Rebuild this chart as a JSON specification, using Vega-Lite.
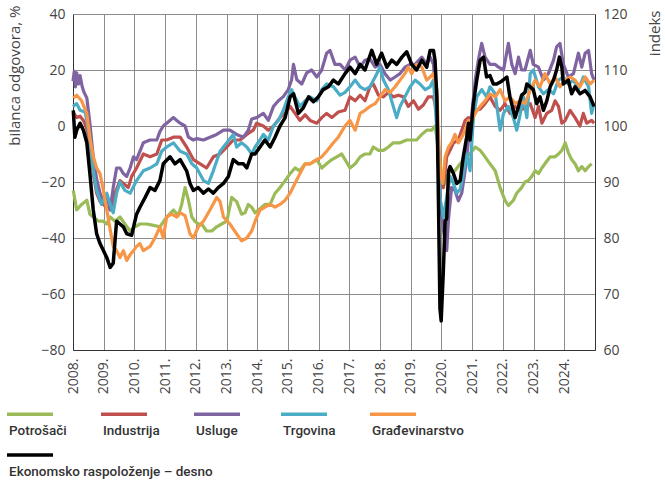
{
"$schema":"https://vega.github.io/schema/vega-lite/v6.json",
"width":522,"height":336,
"autosize":{"type":"none"},
"padding":{"left":73,"top":14,"right":70,"bottom":130},
"background":"white",
"config":{"view":{"stroke":null},
"axis":{"labelFont":"Open Sans","labelFontSize":14,"labelColor":"#444","titleFont":"Open Sans","titleFontSize":15,"titleFontWeight":"normal","titleColor":"#444","domainColor":"#333","gridColor":"#8c8c8c","ticks":false,"tickSize":0,"labelPadding":8,"labelOverlap":false},
"legend":{"title":null,"orient":"none","direction":"horizontal","symbolType":"stroke","symbolSize":2116,"symbolStrokeWidth":3.5,"labelOffset":-46,"labelBaseline":"top","labelFont":"Roboto","labelFontSize":13.5,"labelFontWeight":500,"labelColor":"#333","labelLimit":300}},
"datasets":{
"left":[
{"s":"P","t":2008.01,"v":-23},{"s":"P","t":2008.12,"v":-30},{"s":"P","t":2008.28,"v":-28},{"s":"P","t":2008.45,"v":-26.5},{"s":"P","t":2008.55,"v":-31.5},{"s":"P","t":2008.66,"v":-32.5},{"s":"P","t":2008.83,"v":-34},{"s":"P","t":2008.99,"v":-34},{"s":"P","t":2009.10,"v":-35},{"s":"P","t":2009.21,"v":-32.5},{"s":"P","t":2009.37,"v":-34},{"s":"P","t":2009.53,"v":-32.5},{"s":"P","t":2009.69,"v":-35},{"s":"P","t":2009.86,"v":-37.5},{"s":"P","t":2010.02,"v":-36},{"s":"P","t":2010.18,"v":-35},{"s":"P","t":2010.40,"v":-35},{"s":"P","t":2010.62,"v":-35.5},{"s":"P","t":2010.83,"v":-36},{"s":"P","t":2011.05,"v":-32.5},{"s":"P","t":2011.27,"v":-30},{"s":"P","t":2011.43,"v":-32},{"s":"P","t":2011.54,"v":-28},{"s":"P","t":2011.65,"v":-22},{"s":"P","t":2011.76,"v":-26.5},{"s":"P","t":2011.87,"v":-32.5},{"s":"P","t":2011.97,"v":-34},{"s":"P","t":2012.08,"v":-35},{"s":"P","t":2012.19,"v":-35},{"s":"P","t":2012.35,"v":-37.5},{"s":"P","t":2012.52,"v":-37.5},{"s":"P","t":2012.68,"v":-36},{"s":"P","t":2012.84,"v":-35},{"s":"P","t":2013.01,"v":-34},{"s":"P","t":2013.17,"v":-25.5},{"s":"P","t":2013.33,"v":-27},{"s":"P","t":2013.49,"v":-31.5},{"s":"P","t":2013.60,"v":-31},{"s":"P","t":2013.71,"v":-28},{"s":"P","t":2013.82,"v":-29},{"s":"P","t":2013.93,"v":-31},{"s":"P","t":2014.09,"v":-29.5},{"s":"P","t":2014.25,"v":-28},{"s":"P","t":2014.42,"v":-28},{"s":"P","t":2014.58,"v":-24},{"s":"P","t":2014.74,"v":-22},{"s":"P","t":2014.91,"v":-19.5},{"s":"P","t":2015.07,"v":-17},{"s":"P","t":2015.23,"v":-15},{"s":"P","t":2015.39,"v":-16},{"s":"P","t":2015.56,"v":-13.5},{"s":"P","t":2015.72,"v":-13.5},{"s":"P","t":2015.94,"v":-12},{"s":"P","t":2016.10,"v":-15},{"s":"P","t":2016.26,"v":-13.5},{"s":"P","t":2016.43,"v":-12},{"s":"P","t":2016.59,"v":-11},{"s":"P","t":2016.75,"v":-10},{"s":"P","t":2016.86,"v":-12},{"s":"P","t":2017.02,"v":-15},{"s":"P","t":2017.19,"v":-13.5},{"s":"P","t":2017.35,"v":-11},{"s":"P","t":2017.51,"v":-10},{"s":"P","t":2017.67,"v":-10},{"s":"P","t":2017.78,"v":-7.5},{"s":"P","t":2017.95,"v":-8.7},{"s":"P","t":2018.11,"v":-8.7},{"s":"P","t":2018.27,"v":-7.5},{"s":"P","t":2018.43,"v":-6},{"s":"P","t":2018.65,"v":-6},{"s":"P","t":2018.87,"v":-5},{"s":"P","t":2019.03,"v":-5},{"s":"P","t":2019.19,"v":-5},{"s":"P","t":2019.36,"v":-3},{"s":"P","t":2019.52,"v":-1.5},{"s":"P","t":2019.68,"v":-1.5},{"s":"P","t":2019.79,"v":0},{"s":"P","t":2019.85,"v":-4},{"s":"P","t":2019.95,"v":-13.5},{"s":"P","t":2020.06,"v":-22},{"s":"P","t":2020.17,"v":-18},{"s":"P","t":2020.28,"v":-16},{"s":"P","t":2020.44,"v":-16},{"s":"P","t":2020.61,"v":-13.5},{"s":"P","t":2020.77,"v":-11},{"s":"P","t":2020.93,"v":-10},{"s":"P","t":2021.10,"v":-7.5},{"s":"P","t":2021.26,"v":-8.7},{"s":"P","t":2021.42,"v":-11},{"s":"P","t":2021.58,"v":-13.5},{"s":"P","t":2021.75,"v":-16},{"s":"P","t":2021.91,"v":-22},{"s":"P","t":2022.07,"v":-26.6},{"s":"P","t":2022.18,"v":-28.4},{"s":"P","t":2022.34,"v":-26.6},{"s":"P","t":2022.45,"v":-24},{"s":"P","t":2022.61,"v":-22},{"s":"P","t":2022.72,"v":-20},{"s":"P","t":2022.83,"v":-19.5},{"s":"P","t":2022.94,"v":-18},{"s":"P","t":2023.05,"v":-16},{"s":"P","t":2023.16,"v":-17},{"s":"P","t":2023.27,"v":-15},{"s":"P","t":2023.37,"v":-13.5},{"s":"P","t":2023.54,"v":-11},{"s":"P","t":2023.70,"v":-11},{"s":"P","t":2023.81,"v":-10},{"s":"P","t":2023.92,"v":-8.7},{"s":"P","t":2024.03,"v":-6},{"s":"P","t":2024.13,"v":-9.5},{"s":"P","t":2024.24,"v":-12},{"s":"P","t":2024.35,"v":-13.5},{"s":"P","t":2024.46,"v":-16},{"s":"P","t":2024.57,"v":-14.5},{"s":"P","t":2024.68,"v":-16},{"s":"P","t":2024.79,"v":-14.5},{"s":"P","t":2024.89,"v":-13.5},
{"s":"I","t":2008.0,"v":5},{"s":"I","t":2008.12,"v":3},{"s":"I","t":2008.23,"v":3.5},{"s":"I","t":2008.34,"v":2},{"s":"I","t":2008.45,"v":-1},{"s":"I","t":2008.55,"v":-7.5},{"s":"I","t":2008.66,"v":-17},{"s":"I","t":2008.77,"v":-24},{"s":"I","t":2008.88,"v":-27},{"s":"I","t":2008.99,"v":-28},{"s":"I","t":2009.10,"v":-29},{"s":"I","t":2009.26,"v":-30},{"s":"I","t":2009.37,"v":-24},{"s":"I","t":2009.53,"v":-19.5},{"s":"I","t":2009.69,"v":-21},{"s":"I","t":2009.80,"v":-22},{"s":"I","t":2009.91,"v":-18},{"s":"I","t":2010.07,"v":-15},{"s":"I","t":2010.29,"v":-10},{"s":"I","t":2010.51,"v":-11},{"s":"I","t":2010.73,"v":-10},{"s":"I","t":2010.89,"v":-5},{"s":"I","t":2011.05,"v":-5},{"s":"I","t":2011.27,"v":-4},{"s":"I","t":2011.49,"v":-4},{"s":"I","t":2011.70,"v":-7.5},{"s":"I","t":2011.92,"v":-12},{"s":"I","t":2012.14,"v":-13.5},{"s":"I","t":2012.35,"v":-15},{"s":"I","t":2012.57,"v":-11},{"s":"I","t":2012.79,"v":-10},{"s":"I","t":2013.01,"v":-7.5},{"s":"I","t":2013.22,"v":-5},{"s":"I","t":2013.44,"v":-5},{"s":"I","t":2013.66,"v":-3},{"s":"I","t":2013.87,"v":-1.5},{"s":"I","t":2013.98,"v":1},{"s":"I","t":2014.20,"v":0},{"s":"I","t":2014.36,"v":-1.5},{"s":"I","t":2014.53,"v":0},{"s":"I","t":2014.74,"v":3},{"s":"I","t":2014.91,"v":4.5},{"s":"I","t":2015.07,"v":7},{"s":"I","t":2015.23,"v":4.5},{"s":"I","t":2015.39,"v":2},{"s":"I","t":2015.56,"v":4},{"s":"I","t":2015.72,"v":2},{"s":"I","t":2015.94,"v":1},{"s":"I","t":2016.10,"v":3},{"s":"I","t":2016.26,"v":4.5},{"s":"I","t":2016.43,"v":3},{"s":"I","t":2016.64,"v":5},{"s":"I","t":2016.86,"v":5.6},{"s":"I","t":2017.02,"v":10.4},{"s":"I","t":2017.19,"v":9},{"s":"I","t":2017.35,"v":11},{"s":"I","t":2017.51,"v":9},{"s":"I","t":2017.67,"v":14},{"s":"I","t":2017.78,"v":15},{"s":"I","t":2017.95,"v":11},{"s":"I","t":2018.11,"v":10.4},{"s":"I","t":2018.27,"v":12},{"s":"I","t":2018.43,"v":10.4},{"s":"I","t":2018.60,"v":11},{"s":"I","t":2018.76,"v":10.4},{"s":"I","t":2018.92,"v":7},{"s":"I","t":2019.09,"v":9},{"s":"I","t":2019.25,"v":6},{"s":"I","t":2019.41,"v":7.5},{"s":"I","t":2019.57,"v":10.4},{"s":"I","t":2019.74,"v":10.4},{"s":"I","t":2019.85,"v":4.5},{"s":"I","t":2019.95,"v":-17},{"s":"I","t":2020.06,"v":-22},{"s":"I","t":2020.17,"v":-11},{"s":"I","t":2020.28,"v":-8.7},{"s":"I","t":2020.39,"v":-6},{"s":"I","t":2020.55,"v":-5},{"s":"I","t":2020.66,"v":-1.5},{"s":"I","t":2020.77,"v":2},{"s":"I","t":2020.88,"v":3},{"s":"I","t":2020.99,"v":2},{"s":"I","t":2021.10,"v":5.6},{"s":"I","t":2021.26,"v":6},{"s":"I","t":2021.42,"v":8},{"s":"I","t":2021.58,"v":10.4},{"s":"I","t":2021.75,"v":7},{"s":"I","t":2021.91,"v":5.6},{"s":"I","t":2022.07,"v":8},{"s":"I","t":2022.23,"v":4.5},{"s":"I","t":2022.40,"v":7},{"s":"I","t":2022.56,"v":5.6},{"s":"I","t":2022.72,"v":6.5},{"s":"I","t":2022.89,"v":8},{"s":"I","t":2023.05,"v":3},{"s":"I","t":2023.16,"v":7},{"s":"I","t":2023.27,"v":1},{"s":"I","t":2023.43,"v":4.5},{"s":"I","t":2023.59,"v":5.6},{"s":"I","t":2023.70,"v":9},{"s":"I","t":2023.81,"v":7},{"s":"I","t":2023.92,"v":1},{"s":"I","t":2024.03,"v":2},{"s":"I","t":2024.19,"v":5.6},{"s":"I","t":2024.35,"v":3},{"s":"I","t":2024.51,"v":0},{"s":"I","t":2024.62,"v":4.5},{"s":"I","t":2024.73,"v":1},{"s":"I","t":2024.89,"v":2},{"s":"I","t":2024.97,"v":1},
{"s":"U","t":2008.0,"v":16},{"s":"U","t":2008.04,"v":19.5},{"s":"U","t":2008.08,"v":14},{"s":"U","t":2008.12,"v":19},{"s":"U","t":2008.18,"v":15},{"s":"U","t":2008.23,"v":18},{"s":"U","t":2008.30,"v":14},{"s":"U","t":2008.36,"v":12},{"s":"U","t":2008.45,"v":10},{"s":"U","t":2008.55,"v":1},{"s":"U","t":2008.66,"v":-11},{"s":"U","t":2008.77,"v":-19},{"s":"U","t":2008.88,"v":-24},{"s":"U","t":2008.99,"v":-27},{"s":"U","t":2009.10,"v":-25},{"s":"U","t":2009.21,"v":-30},{"s":"U","t":2009.31,"v":-22},{"s":"U","t":2009.42,"v":-15},{"s":"U","t":2009.53,"v":-15},{"s":"U","t":2009.64,"v":-17},{"s":"U","t":2009.75,"v":-18},{"s":"U","t":2009.86,"v":-15},{"s":"U","t":2009.97,"v":-11},{"s":"U","t":2010.07,"v":-12},{"s":"U","t":2010.29,"v":-6},{"s":"U","t":2010.51,"v":-5},{"s":"U","t":2010.73,"v":-5},{"s":"U","t":2010.83,"v":-2},{"s":"U","t":2010.94,"v":0},{"s":"U","t":2011.05,"v":1},{"s":"U","t":2011.27,"v":3},{"s":"U","t":2011.38,"v":2},{"s":"U","t":2011.49,"v":1},{"s":"U","t":2011.65,"v":0},{"s":"U","t":2011.76,"v":-4},{"s":"U","t":2011.92,"v":-5},{"s":"U","t":2012.03,"v":-4.5},{"s":"U","t":2012.25,"v":-5},{"s":"U","t":2012.46,"v":-4},{"s":"U","t":2012.68,"v":-3},{"s":"U","t":2012.90,"v":-1.5},{"s":"U","t":2013.11,"v":-1.5},{"s":"U","t":2013.33,"v":-3},{"s":"U","t":2013.55,"v":-4},{"s":"U","t":2013.71,"v":-1.5},{"s":"U","t":2013.82,"v":2.5},{"s":"U","t":2013.98,"v":3},{"s":"U","t":2014.20,"v":4.5},{"s":"U","t":2014.36,"v":2},{"s":"U","t":2014.53,"v":7},{"s":"U","t":2014.69,"v":9},{"s":"U","t":2014.85,"v":10.5},{"s":"U","t":2015.01,"v":13},{"s":"U","t":2015.12,"v":16.5},{"s":"U","t":2015.18,"v":22},{"s":"U","t":2015.29,"v":16.5},{"s":"U","t":2015.45,"v":15},{"s":"U","t":2015.61,"v":19},{"s":"U","t":2015.77,"v":20},{"s":"U","t":2015.94,"v":17.5},{"s":"U","t":2016.10,"v":20},{"s":"U","t":2016.26,"v":26},{"s":"U","t":2016.37,"v":27},{"s":"U","t":2016.53,"v":22},{"s":"U","t":2016.70,"v":22},{"s":"U","t":2016.86,"v":20},{"s":"U","t":2017.02,"v":23.5},{"s":"U","t":2017.19,"v":24.6},{"s":"U","t":2017.35,"v":21},{"s":"U","t":2017.51,"v":23.5},{"s":"U","t":2017.67,"v":24},{"s":"U","t":2017.84,"v":21},{"s":"U","t":2018.00,"v":22},{"s":"U","t":2018.16,"v":18.7},{"s":"U","t":2018.33,"v":16.4},{"s":"U","t":2018.49,"v":17.5},{"s":"U","t":2018.65,"v":18.7},{"s":"U","t":2018.81,"v":21},{"s":"U","t":2018.98,"v":22},{"s":"U","t":2019.14,"v":22},{"s":"U","t":2019.36,"v":24.6},{"s":"U","t":2019.52,"v":22},{"s":"U","t":2019.63,"v":24.6},{"s":"U","t":2019.74,"v":22},{"s":"U","t":2019.85,"v":4.5},{"s":"U","t":2019.90,"v":-10},{"s":"U","t":2019.95,"v":-25.5},{"s":"U","t":2020.06,"v":-37},{"s":"U","t":2020.17,"v":-44.5},{"s":"U","t":2020.23,"v":-33},{"s":"U","t":2020.33,"v":-22},{"s":"U","t":2020.44,"v":-23},{"s":"U","t":2020.55,"v":-26.7},{"s":"U","t":2020.66,"v":-24},{"s":"U","t":2020.77,"v":-16},{"s":"U","t":2020.88,"v":-5},{"s":"U","t":2020.99,"v":4.5},{"s":"U","t":2021.10,"v":16.4},{"s":"U","t":2021.20,"v":23.5},{"s":"U","t":2021.31,"v":29.5},{"s":"U","t":2021.42,"v":24.6},{"s":"U","t":2021.58,"v":22},{"s":"U","t":2021.75,"v":22},{"s":"U","t":2021.86,"v":21},{"s":"U","t":2022.02,"v":20},{"s":"U","t":2022.18,"v":29.5},{"s":"U","t":2022.29,"v":22},{"s":"U","t":2022.40,"v":18.7},{"s":"U","t":2022.51,"v":24.6},{"s":"U","t":2022.61,"v":20},{"s":"U","t":2022.72,"v":20},{"s":"U","t":2022.89,"v":27},{"s":"U","t":2022.99,"v":22},{"s":"U","t":2023.16,"v":21},{"s":"U","t":2023.32,"v":16.4},{"s":"U","t":2023.48,"v":18.7},{"s":"U","t":2023.65,"v":23.5},{"s":"U","t":2023.75,"v":28.3},{"s":"U","t":2023.86,"v":29.5},{"s":"U","t":2023.97,"v":22},{"s":"U","t":2024.13,"v":17.5},{"s":"U","t":2024.30,"v":18.7},{"s":"U","t":2024.46,"v":26},{"s":"U","t":2024.57,"v":21},{"s":"U","t":2024.68,"v":26},{"s":"U","t":2024.79,"v":27},{"s":"U","t":2024.89,"v":18.7},{"s":"U","t":2024.97,"v":16.4},
{"s":"T","t":2008.0,"v":7},{"s":"T","t":2008.12,"v":8},{"s":"T","t":2008.23,"v":5.6},{"s":"T","t":2008.39,"v":5},{"s":"T","t":2008.45,"v":2},{"s":"T","t":2008.55,"v":-5},{"s":"T","t":2008.66,"v":-16},{"s":"T","t":2008.77,"v":-23},{"s":"T","t":2008.93,"v":-28},{"s":"T","t":2009.10,"v":-24},{"s":"T","t":2009.21,"v":-28},{"s":"T","t":2009.31,"v":-31},{"s":"T","t":2009.42,"v":-24},{"s":"T","t":2009.53,"v":-20},{"s":"T","t":2009.69,"v":-23},{"s":"T","t":2009.86,"v":-24},{"s":"T","t":2010.07,"v":-19.5},{"s":"T","t":2010.29,"v":-16},{"s":"T","t":2010.51,"v":-15},{"s":"T","t":2010.73,"v":-13.5},{"s":"T","t":2010.89,"v":-9},{"s":"T","t":2011.05,"v":-7.5},{"s":"T","t":2011.27,"v":-6},{"s":"T","t":2011.49,"v":-9},{"s":"T","t":2011.70,"v":-10},{"s":"T","t":2011.87,"v":-13.5},{"s":"T","t":2012.03,"v":-15},{"s":"T","t":2012.25,"v":-19.5},{"s":"T","t":2012.41,"v":-20.5},{"s":"T","t":2012.57,"v":-16},{"s":"T","t":2012.79,"v":-9},{"s":"T","t":2013.01,"v":-6},{"s":"T","t":2013.22,"v":-3},{"s":"T","t":2013.33,"v":-7.5},{"s":"T","t":2013.49,"v":-6},{"s":"T","t":2013.66,"v":-7.5},{"s":"T","t":2013.82,"v":-10},{"s":"T","t":2013.93,"v":-7.5},{"s":"T","t":2014.09,"v":-5},{"s":"T","t":2014.20,"v":-3},{"s":"T","t":2014.36,"v":-5},{"s":"T","t":2014.53,"v":0},{"s":"T","t":2014.69,"v":2},{"s":"T","t":2014.85,"v":5.6},{"s":"T","t":2015.01,"v":10.4},{"s":"T","t":2015.12,"v":13},{"s":"T","t":2015.23,"v":10.4},{"s":"T","t":2015.39,"v":7},{"s":"T","t":2015.56,"v":9},{"s":"T","t":2015.72,"v":10.4},{"s":"T","t":2015.94,"v":9},{"s":"T","t":2016.10,"v":13},{"s":"T","t":2016.26,"v":15},{"s":"T","t":2016.48,"v":14},{"s":"T","t":2016.70,"v":11},{"s":"T","t":2016.86,"v":12},{"s":"T","t":2017.02,"v":14},{"s":"T","t":2017.19,"v":16.4},{"s":"T","t":2017.35,"v":14},{"s":"T","t":2017.51,"v":13},{"s":"T","t":2017.67,"v":14},{"s":"T","t":2017.84,"v":17.5},{"s":"T","t":2018.00,"v":21},{"s":"T","t":2018.11,"v":16.4},{"s":"T","t":2018.27,"v":13},{"s":"T","t":2018.43,"v":7},{"s":"T","t":2018.54,"v":3},{"s":"T","t":2018.65,"v":7},{"s":"T","t":2018.81,"v":10.4},{"s":"T","t":2018.98,"v":14},{"s":"T","t":2019.14,"v":16.4},{"s":"T","t":2019.30,"v":15},{"s":"T","t":2019.47,"v":13},{"s":"T","t":2019.63,"v":14},{"s":"T","t":2019.74,"v":16.4},{"s":"T","t":2019.85,"v":-1.5},{"s":"T","t":2019.95,"v":-25.5},{"s":"T","t":2020.06,"v":-32.6},{"s":"T","t":2020.17,"v":-25.5},{"s":"T","t":2020.28,"v":-18},{"s":"T","t":2020.39,"v":-20.5},{"s":"T","t":2020.50,"v":-24},{"s":"T","t":2020.61,"v":-22.5},{"s":"T","t":2020.71,"v":-17},{"s":"T","t":2020.82,"v":-10},{"s":"T","t":2020.93,"v":-16},{"s":"T","t":2021.04,"v":3},{"s":"T","t":2021.15,"v":10.4},{"s":"T","t":2021.31,"v":13},{"s":"T","t":2021.47,"v":10.4},{"s":"T","t":2021.58,"v":14},{"s":"T","t":2021.75,"v":11.5},{"s":"T","t":2021.91,"v":-1.5},{"s":"T","t":2022.02,"v":4.5},{"s":"T","t":2022.18,"v":7},{"s":"T","t":2022.34,"v":3},{"s":"T","t":2022.45,"v":-1.5},{"s":"T","t":2022.56,"v":4},{"s":"T","t":2022.67,"v":10.4},{"s":"T","t":2022.78,"v":3},{"s":"T","t":2022.89,"v":18.7},{"s":"T","t":2022.99,"v":20},{"s":"T","t":2023.16,"v":14},{"s":"T","t":2023.32,"v":11.5},{"s":"T","t":2023.48,"v":13},{"s":"T","t":2023.65,"v":11.5},{"s":"T","t":2023.81,"v":16.4},{"s":"T","t":2023.97,"v":17.5},{"s":"T","t":2024.13,"v":15},{"s":"T","t":2024.30,"v":16.4},{"s":"T","t":2024.46,"v":13},{"s":"T","t":2024.62,"v":17.5},{"s":"T","t":2024.79,"v":14},{"s":"T","t":2024.89,"v":4.5},{"s":"T","t":2024.97,"v":8},
{"s":"G","t":2008.01,"v":10},{"s":"G","t":2008.12,"v":11},{"s":"G","t":2008.28,"v":9},{"s":"G","t":2008.45,"v":4.5},{"s":"G","t":2008.55,"v":-4},{"s":"G","t":2008.66,"v":-11},{"s":"G","t":2008.77,"v":-15},{"s":"G","t":2008.88,"v":-17},{"s":"G","t":2008.99,"v":-23},{"s":"G","t":2009.10,"v":-30},{"s":"G","t":2009.21,"v":-37},{"s":"G","t":2009.31,"v":-43},{"s":"G","t":2009.42,"v":-44.5},{"s":"G","t":2009.53,"v":-47},{"s":"G","t":2009.64,"v":-44.5},{"s":"G","t":2009.75,"v":-48},{"s":"G","t":2009.86,"v":-46},{"s":"G","t":2009.97,"v":-44.5},{"s":"G","t":2010.07,"v":-43},{"s":"G","t":2010.18,"v":-42},{"s":"G","t":2010.29,"v":-44.5},{"s":"G","t":2010.51,"v":-43},{"s":"G","t":2010.67,"v":-40},{"s":"G","t":2010.83,"v":-36},{"s":"G","t":2010.94,"v":-40},{"s":"G","t":2011.05,"v":-32.5},{"s":"G","t":2011.21,"v":-31.5},{"s":"G","t":2011.38,"v":-32.5},{"s":"G","t":2011.49,"v":-31},{"s":"G","t":2011.65,"v":-32},{"s":"G","t":2011.81,"v":-38.5},{"s":"G","t":2011.92,"v":-40},{"s":"G","t":2012.08,"v":-36},{"s":"G","t":2012.25,"v":-34},{"s":"G","t":2012.46,"v":-30},{"s":"G","t":2012.68,"v":-25.5},{"s":"G","t":2012.79,"v":-27},{"s":"G","t":2012.90,"v":-32.5},{"s":"G","t":2013.11,"v":-35},{"s":"G","t":2013.33,"v":-38.5},{"s":"G","t":2013.49,"v":-41},{"s":"G","t":2013.66,"v":-40},{"s":"G","t":2013.82,"v":-37.5},{"s":"G","t":2013.93,"v":-34},{"s":"G","t":2014.09,"v":-30},{"s":"G","t":2014.25,"v":-29},{"s":"G","t":2014.42,"v":-28},{"s":"G","t":2014.58,"v":-29},{"s":"G","t":2014.74,"v":-28},{"s":"G","t":2014.91,"v":-26.5},{"s":"G","t":2015.07,"v":-24},{"s":"G","t":2015.23,"v":-20.5},{"s":"G","t":2015.39,"v":-17},{"s":"G","t":2015.56,"v":-13.5},{"s":"G","t":2015.72,"v":-13.5},{"s":"G","t":2015.94,"v":-12},{"s":"G","t":2016.10,"v":-11},{"s":"G","t":2016.26,"v":-9},{"s":"G","t":2016.48,"v":-6},{"s":"G","t":2016.64,"v":-4},{"s":"G","t":2016.86,"v":0},{"s":"G","t":2017.02,"v":2},{"s":"G","t":2017.19,"v":-1.5},{"s":"G","t":2017.35,"v":4.5},{"s":"G","t":2017.51,"v":5.6},{"s":"G","t":2017.67,"v":7},{"s":"G","t":2017.84,"v":8},{"s":"G","t":2018.00,"v":10.4},{"s":"G","t":2018.16,"v":13},{"s":"G","t":2018.33,"v":12},{"s":"G","t":2018.49,"v":14},{"s":"G","t":2018.65,"v":16.4},{"s":"G","t":2018.81,"v":18.7},{"s":"G","t":2018.92,"v":21},{"s":"G","t":2019.03,"v":18.7},{"s":"G","t":2019.19,"v":22},{"s":"G","t":2019.36,"v":21},{"s":"G","t":2019.52,"v":16.4},{"s":"G","t":2019.63,"v":17.5},{"s":"G","t":2019.74,"v":18.7},{"s":"G","t":2019.85,"v":13},{"s":"G","t":2019.95,"v":-16},{"s":"G","t":2020.04,"v":-20.5},{"s":"G","t":2020.12,"v":-11},{"s":"G","t":2020.23,"v":-7.5},{"s":"G","t":2020.33,"v":-6},{"s":"G","t":2020.44,"v":-3},{"s":"G","t":2020.55,"v":-6},{"s":"G","t":2020.66,"v":-4},{"s":"G","t":2020.77,"v":-1.5},{"s":"G","t":2020.88,"v":2},{"s":"G","t":2020.99,"v":2},{"s":"G","t":2021.10,"v":4.5},{"s":"G","t":2021.26,"v":7},{"s":"G","t":2021.42,"v":9},{"s":"G","t":2021.58,"v":11.5},{"s":"G","t":2021.75,"v":10.4},{"s":"G","t":2021.91,"v":13},{"s":"G","t":2022.07,"v":9},{"s":"G","t":2022.23,"v":10.4},{"s":"G","t":2022.40,"v":8},{"s":"G","t":2022.56,"v":9},{"s":"G","t":2022.72,"v":8},{"s":"G","t":2022.89,"v":12.7},{"s":"G","t":2023.05,"v":16.4},{"s":"G","t":2023.21,"v":14},{"s":"G","t":2023.37,"v":18.7},{"s":"G","t":2023.54,"v":15},{"s":"G","t":2023.70,"v":17.5},{"s":"G","t":2023.86,"v":14},{"s":"G","t":2024.03,"v":16.4},{"s":"G","t":2024.19,"v":17.5},{"s":"G","t":2024.35,"v":16.4},{"s":"G","t":2024.51,"v":14},{"s":"G","t":2024.68,"v":17.5},{"s":"G","t":2024.84,"v":15},{"s":"G","t":2024.97,"v":16.4}
],
"right":[
{"s":"E","t":2008.01,"v":102.8},{"s":"E","t":2008.06,"v":98},{"s":"E","t":2008.12,"v":99.25},{"s":"E","t":2008.23,"v":100.5},{"s":"E","t":2008.34,"v":99.25},{"s":"E","t":2008.45,"v":97},{"s":"E","t":2008.55,"v":91.5},{"s":"E","t":2008.66,"v":85},{"s":"E","t":2008.77,"v":80.75},{"s":"E","t":2008.88,"v":79},{"s":"E","t":2008.99,"v":77.75},{"s":"E","t":2009.10,"v":76.5},{"s":"E","t":2009.21,"v":74.75},{"s":"E","t":2009.31,"v":75.5},{"s":"E","t":2009.42,"v":83},{"s":"E","t":2009.53,"v":82.5},{"s":"E","t":2009.64,"v":82},{"s":"E","t":2009.75,"v":80.75},{"s":"E","t":2009.91,"v":80.5},{"s":"E","t":2010.07,"v":84.25},{"s":"E","t":2010.18,"v":85.5},{"s":"E","t":2010.35,"v":87.25},{"s":"E","t":2010.51,"v":89},{"s":"E","t":2010.67,"v":88.5},{"s":"E","t":2010.83,"v":90.25},{"s":"E","t":2010.94,"v":93.25},{"s":"E","t":2011.16,"v":94.5},{"s":"E","t":2011.32,"v":93.25},{"s":"E","t":2011.49,"v":94},{"s":"E","t":2011.70,"v":92},{"s":"E","t":2011.81,"v":89.75},{"s":"E","t":2011.92,"v":88.5},{"s":"E","t":2012.08,"v":89},{"s":"E","t":2012.25,"v":88},{"s":"E","t":2012.41,"v":88.75},{"s":"E","t":2012.57,"v":88},{"s":"E","t":2012.73,"v":89},{"s":"E","t":2012.90,"v":89.75},{"s":"E","t":2013.06,"v":91},{"s":"E","t":2013.22,"v":94},{"s":"E","t":2013.39,"v":93.25},{"s":"E","t":2013.55,"v":93.25},{"s":"E","t":2013.66,"v":92.5},{"s":"E","t":2013.82,"v":95},{"s":"E","t":2013.93,"v":95},{"s":"E","t":2014.09,"v":96.25},{"s":"E","t":2014.25,"v":97.5},{"s":"E","t":2014.42,"v":96.25},{"s":"E","t":2014.58,"v":98},{"s":"E","t":2014.74,"v":100},{"s":"E","t":2014.91,"v":101.5},{"s":"E","t":2015.07,"v":105.2},{"s":"E","t":2015.18,"v":105.75},{"s":"E","t":2015.34,"v":102.25},{"s":"E","t":2015.50,"v":103.25},{"s":"E","t":2015.67,"v":105.2},{"s":"E","t":2015.83,"v":104.35},{"s":"E","t":2015.99,"v":105.2},{"s":"E","t":2016.15,"v":106.5},{"s":"E","t":2016.32,"v":107},{"s":"E","t":2016.48,"v":108.2},{"s":"E","t":2016.64,"v":107.5},{"s":"E","t":2016.86,"v":109.35},{"s":"E","t":2017.02,"v":110.5},{"s":"E","t":2017.19,"v":109.35},{"s":"E","t":2017.35,"v":111},{"s":"E","t":2017.51,"v":110},{"s":"E","t":2017.73,"v":113.5},{"s":"E","t":2017.89,"v":111},{"s":"E","t":2018.05,"v":113},{"s":"E","t":2018.22,"v":110.5},{"s":"E","t":2018.38,"v":111.75},{"s":"E","t":2018.54,"v":111},{"s":"E","t":2018.71,"v":112.3},{"s":"E","t":2018.87,"v":113.25},{"s":"E","t":2019.03,"v":111},{"s":"E","t":2019.19,"v":110},{"s":"E","t":2019.36,"v":111.75},{"s":"E","t":2019.52,"v":110.5},{"s":"E","t":2019.63,"v":113.5},{"s":"E","t":2019.74,"v":113.5},{"s":"E","t":2019.79,"v":111.75},{"s":"E","t":2019.85,"v":105.2},{"s":"E","t":2019.90,"v":87.25},{"s":"E","t":2019.95,"v":67.5},{"s":"E","t":2019.99,"v":65.2},{"s":"E","t":2020.06,"v":74},{"s":"E","t":2020.12,"v":83},{"s":"E","t":2020.17,"v":83.5},{"s":"E","t":2020.23,"v":92},{"s":"E","t":2020.28,"v":92.75},{"s":"E","t":2020.39,"v":91.5},{"s":"E","t":2020.50,"v":89.75},{"s":"E","t":2020.61,"v":90.25},{"s":"E","t":2020.71,"v":94.5},{"s":"E","t":2020.82,"v":98},{"s":"E","t":2020.88,"v":100.5},{"s":"E","t":2020.93,"v":97.5},{"s":"E","t":2020.99,"v":101},{"s":"E","t":2021.04,"v":104},{"s":"E","t":2021.15,"v":108.2},{"s":"E","t":2021.26,"v":111.75},{"s":"E","t":2021.37,"v":112.3},{"s":"E","t":2021.47,"v":108.75},{"s":"E","t":2021.58,"v":109},{"s":"E","t":2021.69,"v":107.5},{"s":"E","t":2021.80,"v":107.5},{"s":"E","t":2021.96,"v":108},{"s":"E","t":2022.13,"v":108.75},{"s":"E","t":2022.23,"v":105.2},{"s":"E","t":2022.40,"v":101.5},{"s":"E","t":2022.51,"v":103.5},{"s":"E","t":2022.61,"v":105.5},{"s":"E","t":2022.72,"v":106},{"s":"E","t":2022.78,"v":107.5},{"s":"E","t":2022.89,"v":107},{"s":"E","t":2022.99,"v":106.5},{"s":"E","t":2023.10,"v":104},{"s":"E","t":2023.21,"v":105.2},{"s":"E","t":2023.32,"v":102.8},{"s":"E","t":2023.43,"v":104.5},{"s":"E","t":2023.54,"v":107},{"s":"E","t":2023.65,"v":108.2},{"s":"E","t":2023.75,"v":110},{"s":"E","t":2023.84,"v":112.3},{"s":"E","t":2023.92,"v":110.5},{"s":"E","t":2023.97,"v":107.5},{"s":"E","t":2024.13,"v":108.2},{"s":"E","t":2024.24,"v":105.75},{"s":"E","t":2024.35,"v":107},{"s":"E","t":2024.51,"v":105.75},{"s":"E","t":2024.68,"v":106.35},{"s":"E","t":2024.84,"v":105.2},{"s":"E","t":2024.97,"v":103.5}
]},
"layer":[
{"data":{"name":"left"},
"mark":{"type":"line","strokeWidth":3.2,"strokeJoin":"round"},
"encoding":{
"x":{"field":"t","type":"quantitative","scale":{"domain":[2008,2025],"nice":false,"zero":false},
"axis":{"values":[2008,2009,2010,2011,2012,2013,2014,2015,2016,2017,2018,2019,2020,2021,2022,2023,2024],"labelExpr":"datum.value + '.'","labelAngle":270,"labelFlush":false,"labelOverlap":false,"grid":true,"title":null}},
"y":{"field":"v","type":"quantitative","scale":{"domain":[-80,40],"nice":false,"zero":false},
"axis":{"values":[-80,-60,-40,-20,0,20,40],"grid":true,"title":"bilanca odgovora, %","titleAngle":270,"titleAlign":"right","titleBaseline":"top","titleX":-66,"titleY":-9}},
"color":{"field":"s","type":"nominal","scale":{"domain":["P","I","U","T","G"],"range":["#9bbb59","#c0504d","#8064a2","#4bacc6","#f79646"]},
"legend":{"legendX":-68,"legendY":375,"columns":5,"columnPadding":27,
"labelExpr":"datum.value=='P'?'Potrošači':datum.value=='I'?'Industrija':datum.value=='U'?'Usluge':datum.value=='T'?'Trgovina':'Građevinarstvo'",
"encode":{"labels":{"update":{"dy":{"value":10}}}}}}
}},
{"data":{"name":"right"},
"mark":{"type":"line","strokeWidth":3.5,"strokeJoin":"round"},
"encoding":{
"x":{"field":"t","type":"quantitative","scale":{"domain":[2008,2025],"nice":false,"zero":false},
"axis":{"values":[2008,2009,2010,2011,2012,2013,2014,2015,2016,2017,2018,2019,2020,2021,2022,2023,2024],"labelExpr":"datum.value + '.'","labelAngle":270,"labelFlush":false,"labelOverlap":false,"grid":true,"title":null}},
"y":{"field":"v","type":"quantitative","scale":{"domain":[60,120],"nice":false,"zero":false},
"axis":{"orient":"right","values":[60,70,80,90,100,110,120],"grid":false,"title":"indeks","titleAngle":270,"titleAlign":"right","titleBaseline":"top","titleX":52,"titleY":-4}},
"color":{"field":"s","type":"nominal","scale":{"domain":["E"],"range":["#000000"]},
"legend":{"legendX":-68,"legendY":416,
"labelExpr":"'Ekonomsko raspoloženje – desno'",
"encode":{"labels":{"update":{"dy":{"value":10}}}}}}
}}
],
"resolve":{"scale":{"y":"independent","color":"independent"}}
}
